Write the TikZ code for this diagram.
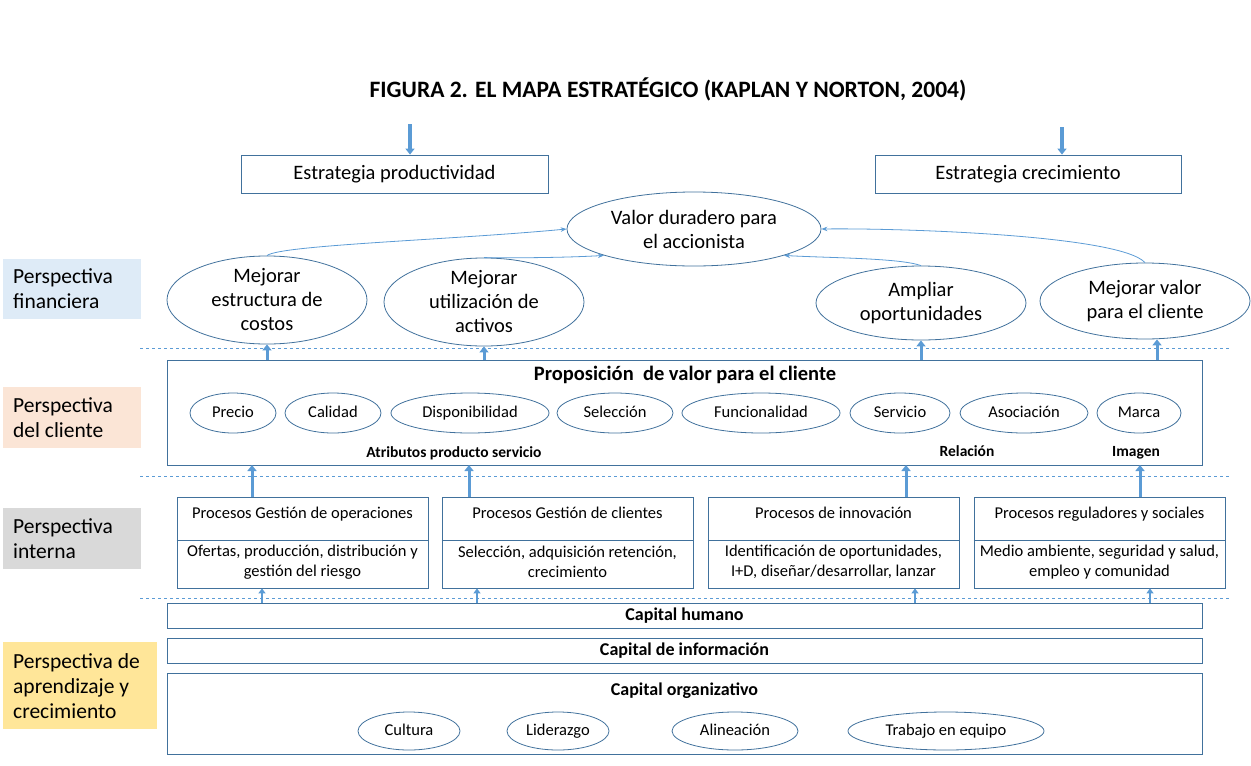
\documentclass[tikz,border=0pt]{standalone}
\usepackage{fontspec}
\setmainfont{Carlito}
\usetikzlibrary{arrows.meta,shapes.geometric}
\definecolor{ol}{HTML}{41719C}
\definecolor{ar}{HTML}{5B9BD5}
\begin{document}
\begin{tikzpicture}[x=1pt,y=-1pt,
 bx/.style={draw=ol,line width=0.8pt,inner sep=0},
 el/.style={draw=ol,line width=0.8pt,ellipse,inner sep=0,align=center},
 lab/.style={inner sep=0,align=left,font=\fontsize{21.5}{25}\selectfont,anchor=west},
 up/.style={ar,line width=3pt,-{Triangle[length=6pt,width=9pt]}},
 cv/.style={ar,line width=0.8pt,-{Stealth[length=6pt]}},
 dl/.style={ar,dashed,line width=0.6pt},
 f16/.style={font=\fontsize{20.5}{24}\selectfont},
 f14/.style={font=\fontsize{16.5}{20}\selectfont},
 sb/.style={font=\bfseries\fontsize{15.5}{18}\selectfont}]
\useasboundingbox (0,0) rectangle (1251,766);
\node[font=\bfseries\fontsize{23.5}{27}\selectfont] (t) at (668,89) {FIGURA 2. EL MAPA ESTRATÉGICO (KAPLAN Y NORTON, 2004)};
% strategy boxes
\node[bx,minimum width=307,minimum height=38,f16] (ep) at (394.5,174) {Estrategia productividad};
\node[bx,minimum width=306,minimum height=38,f16] (ec) at (1028,174) {Estrategia crecimiento};
\coordinate (a1) at (410,124); \coordinate (a2) at (1062,127);
\draw[up,line width=4pt] (a1) -- (ep.north -| a1);
\draw[up,line width=4pt] (a2) -- (ec.north -| a2);
% left labels
\fill[fill={rgb,255:red,222;green,235;blue,247}] (3,259) rectangle (141,319);
\node[lab] (pf) at (13,289) {Perspectiva\\financiera};
\fill[fill={rgb,255:red,251;green,229;blue,214}] (3,387) rectangle (141,448);
\node[lab] (pc) at (13,418) {Perspectiva\\del cliente};
\fill[fill={rgb,255:red,217;green,217;blue,217}] (3,508) rectangle (141,569);
\node[lab] (pi) at (13,539) {Perspectiva\\interna};
\fill[fill={rgb,255:red,255;green,230;blue,153}] (3,642) rectangle (157,729);
\node[lab] (pa) at (13,686) {Perspectiva de\\aprendizaje y\\crecimiento};
% financial
\node[el,minimum width=254,minimum height=74,f16] (v) at (694,229) {Valor duradero para\\el accionista};
\node[el,minimum width=200,minimum height=80,f16] (m1) at (267,300) {Mejorar\\estructura de\\costos};
\node[el,minimum width=200,minimum height=76,f16] (m2) at (484,302) {Mejorar\\utilización de\\activos};
\node[el,minimum width=210,minimum height=74,f16] (m3) at (921,303) {Ampliar\\oportunidades};
\node[el,minimum width=210,minimum height=76,f16] (m4) at (1145,301) {Mejorar valor\\para el cliente};
\draw[cv] (m1.north) .. controls (280,245) and (450,240) .. (v.west);
\draw[cv] (m2.north) .. controls (500,258) and (560,258) .. (v.south west);
\draw[cv] (m3.north) .. controls (900,258) and (830,258) .. (v.south east);
\draw[cv] (m4.north) .. controls (1120,235) and (900,228) .. (v.east);
% dashed lines
\draw[dl] (140,348) -- (1230,348);
\draw[dl] (140,476) -- (1230,476);
\draw[dl] (140,598) -- (1230,598);
% client
\node[bx,minimum width=1035,minimum height=105] (cb) at (684.5,412.5) {};
\node[font=\bfseries\fontsize{20.5}{24}\selectfont] (pt) at (685,375) {Proposición\ \ de valor para el cliente};
\foreach \n/\x/\w/\t in {c1/233/86/Precio,c2/333/96/Calidad,c3/470/158/Disponibilidad,c4/615/116/Selección,c5/761/158/Funcionalidad,c6/900/100/Servicio,c7/1024/128/Asociación,c8/1139/84/Marca}
 \node[el,minimum width=\w,minimum height=40,f14] (\n) at (\x,413) {\strut\t};
\node[sb] (l1) at (454,453) {Atributos producto servicio};
\node[sb] (l2) at (967,453) {\strut Relación};
\node[sb] (l3) at (1136,453) {\strut Imagen};
\foreach \x/\m in {267/m1,484/m2,921/m3,1157/m4}
 \draw[up] (\x,360) -- (\m.south -| \x,0) ;
% internal
\foreach \n/\x/\a/\b/\c in {
 i1/302.5/Procesos Gestión de operaciones/{Ofertas, producción, distribución y}/gestión del riesgo,
 i2/567.5/Procesos Gestión de clientes/{Selección, adquisición retención,}/crecimiento,
 i3/833.5/Procesos de innovación/{Identificación de oportunidades,}/{I+D, diseñar/desarrollar, lanzar},
 i4/1099.5/Procesos reguladores y sociales/{Medio ambiente, seguridad y salud,}/empleo y comunidad}{
 \node[bx,minimum width=251,minimum height=91] (\n) at (\x,542.5) {};
 \draw[ol,line width=0.8pt] (\n.west |- 0,540) -- (\n.east |- 0,540);
 \node[f14] at (\x,514) {\strut\a};
 \node[f14,align=center] at (\x,562) {\b\\\c};
}
\foreach \x/\i in {252/i1,469/i2,906/i3,1140/i4}
 \draw[up] (\i.north -| \x,0) -- (\x,465);
% capital
\node[bx,minimum width=1035,minimum height=25,font=\bfseries\fontsize{18}{21}\selectfont] (ch) at (684.5,615.5) {Capital humano};
\node[bx,minimum width=1035,minimum height=25,font=\bfseries\fontsize{18}{21}\selectfont] (ci) at (684.5,650.5) {Capital de información};
\node[bx,minimum width=1035,minimum height=81] (co) at (684.5,713.5) {};
\node[font=\bfseries\fontsize{18}{21}\selectfont] (cot) at (684.5,691) {Capital organizativo};
\foreach \n/\x/\w/\t in {o1/409/102/Cultura,o2/558/102/Liderazgo,o3/735/126/Alineación,o4/946/196/Trabajo en equipo}
 \node[el,minimum width=\w,minimum height=38,f14] (\n) at (\x,731) {\strut\t};
\foreach \x/\i in {262/i1,477/i2,915/i3,1150/i4}
 \draw[ar,line width=2pt,-{Triangle[length=5pt,width=7pt]}] (\x,603) -- (\i.south -| \x,0);
\end{tikzpicture}
\end{document}
